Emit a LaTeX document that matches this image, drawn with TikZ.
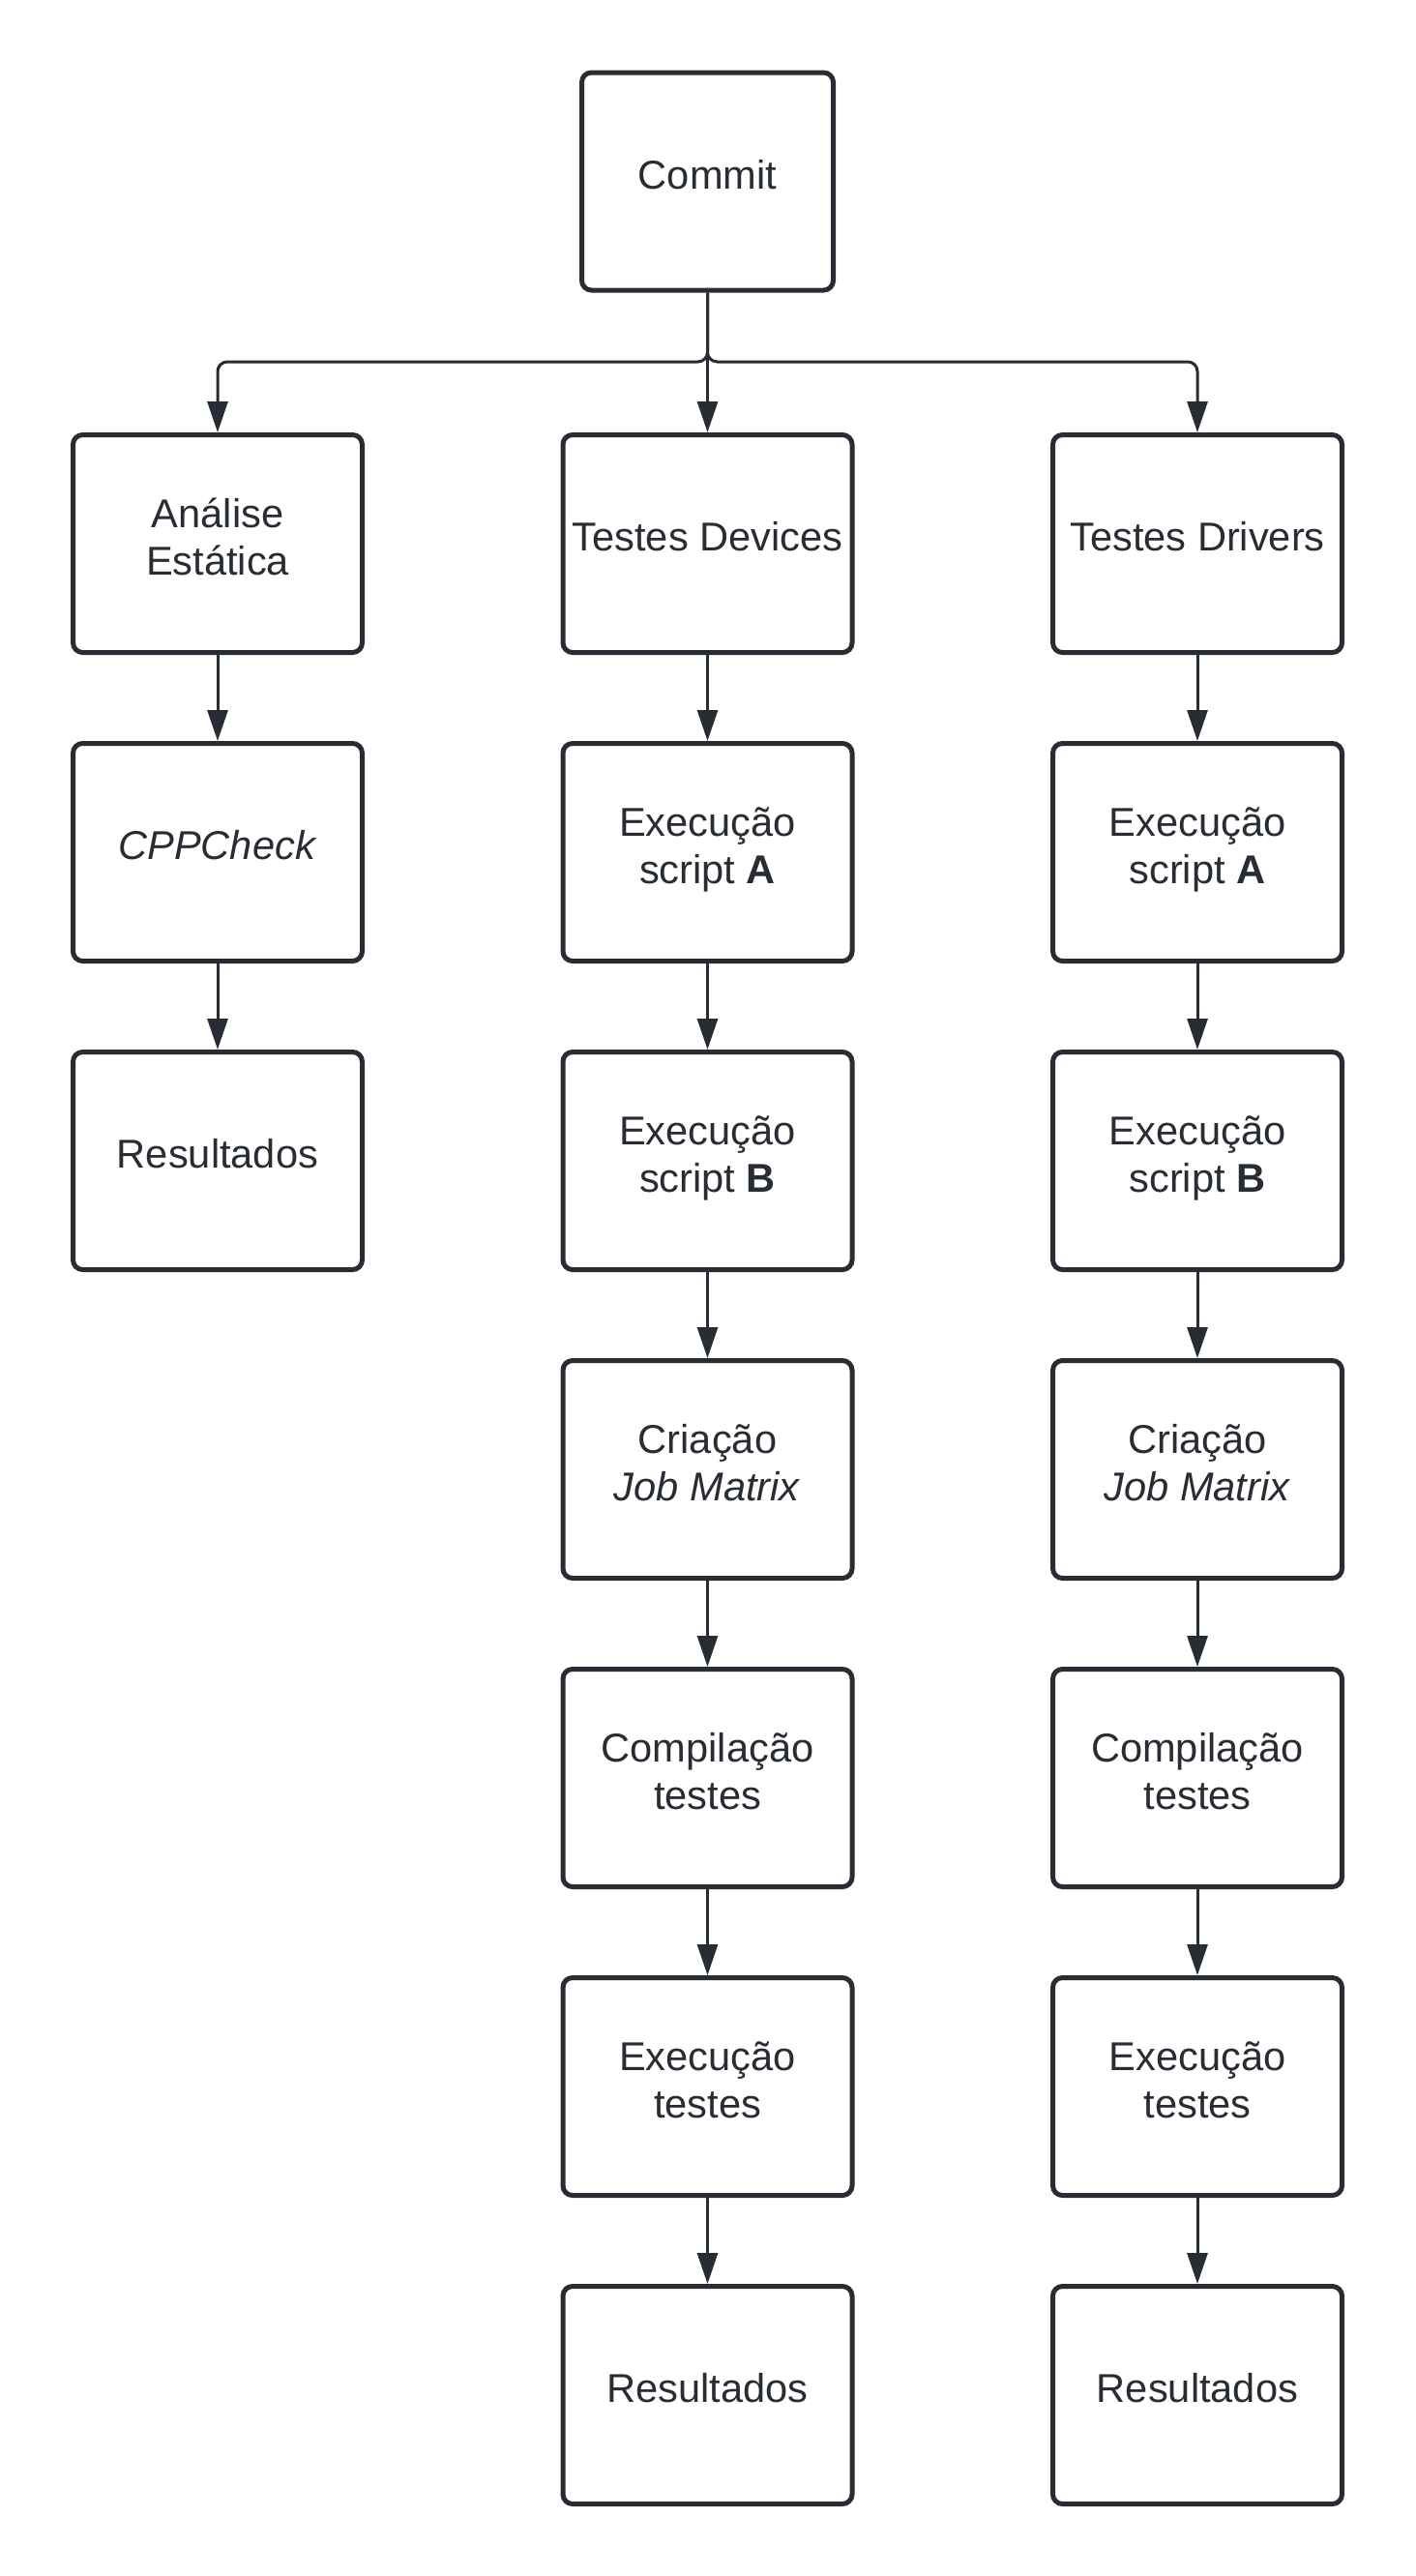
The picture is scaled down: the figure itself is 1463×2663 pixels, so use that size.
\documentclass[tikz,border=0pt]{standalone}
\usepackage{fontspec}
\setmainfont{Liberation Sans}
\usetikzlibrary{arrows.meta}
\definecolor{ink}{RGB}{40,44,51}
\newcommand{\twolines}[2]{\rule{0pt}{19pt}#1\\#2\rule[-11.5pt]{0pt}{11.5pt}}

\begin{document}
\begin{tikzpicture}[x=0.5pt,y=-0.5pt,
  box/.style={draw=ink, line width=2.5pt, rounded corners=5pt, fill=white,
    minimum width=149.5pt, minimum height=112.5pt, inner sep=0pt,
    align=center, text=ink, font=\fontsize{20.8}{24.5}\selectfont,
    execute at begin node={\rule{0pt}{19pt}},
    execute at end node={\rule[-11.5pt]{0pt}{11.5pt}}},
  link/.style={draw=ink, line width=1.5pt, rounded corners=5pt,
    -{Triangle[length=16pt,width=10.5pt]}}]

  % Page frame
  \useasboundingbox (0,0) rectangle (1463,2663);

  % Top box
  \node[box, minimum width=130pt] (commit) at (731.5,187.5) {Commit};
  \coordinate (split) at (731.5,374);

  % Left column: static analysis
  \node[box] (ana) at (225,562) {\twolines{Análise}{Estática}};
  \node[box] (cpp) at (225,881) {\textit{CPPCheck}};
  \node[box] (anaRes) at (225,1200) {Resultados};

  % Middle column: device tests
  \node[box] (dev)     at (731.5,562)  {Testes Devices};
  \node[box] (devA)    at (731.5,881)  {\twolines{Execução}{script \textbf{A}}};
  \node[box] (devB)    at (731.5,1200) {\twolines{Execução}{script \textbf{B}}};
  \node[box] (devJob)  at (731.5,1519) {\twolines{Criação}{\textit{Job Matrix}}};
  \node[box] (devComp) at (731.5,1838) {\twolines{Compilação}{testes}};
  \node[box] (devExec) at (731.5,2157) {\twolines{Execução}{testes}};
  \node[box] (devRes)  at (731.5,2476) {Resultados};

  % Right column: driver tests
  \node[box] (drv)     at (1238,562)  {Testes Drivers};
  \node[box] (drvA)    at (1238,881)  {\twolines{Execução}{script \textbf{A}}};
  \node[box] (drvB)    at (1238,1200) {\twolines{Execução}{script \textbf{B}}};
  \node[box] (drvJob)  at (1238,1519) {\twolines{Criação}{\textit{Job Matrix}}};
  \node[box] (drvComp) at (1238,1838) {\twolines{Compilação}{testes}};
  \node[box] (drvExec) at (1238,2157) {\twolines{Execução}{testes}};
  \node[box] (drvRes)  at (1238,2476) {Resultados};

  % Fan-out from the commit
  \draw[link] (commit.south) -- (split) -| (ana.north);
  \draw[link] (commit) -- (dev);
  \draw[link] (commit.south) -- (split) -| (drv.north);

  % Left chain
  \draw[link] (ana) -- (cpp);
  \draw[link] (cpp) -- (anaRes);

  % Middle chain
  \draw[link] (dev) -- (devA);
  \draw[link] (devA) -- (devB);
  \draw[link] (devB) -- (devJob);
  \draw[link] (devJob) -- (devComp);
  \draw[link] (devComp) -- (devExec);
  \draw[link] (devExec) -- (devRes);

  % Right chain
  \draw[link] (drv) -- (drvA);
  \draw[link] (drvA) -- (drvB);
  \draw[link] (drvB) -- (drvJob);
  \draw[link] (drvJob) -- (drvComp);
  \draw[link] (drvComp) -- (drvExec);
  \draw[link] (drvExec) -- (drvRes);

\end{tikzpicture}
\end{document}
